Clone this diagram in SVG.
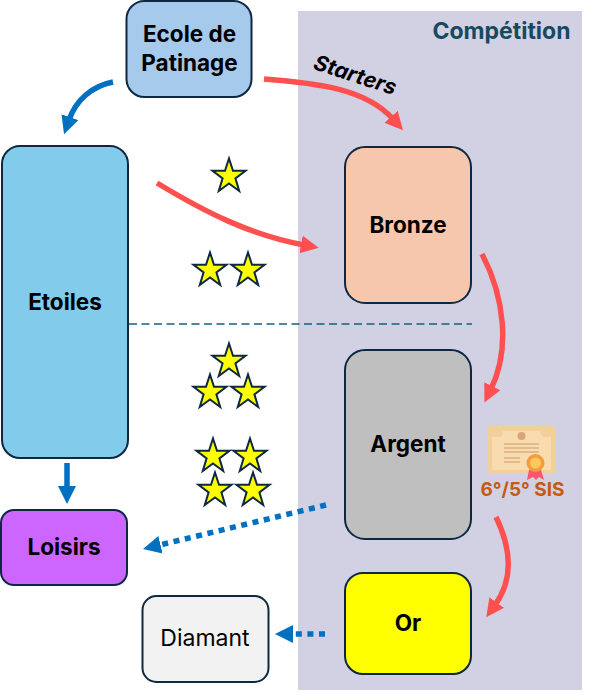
<svg xmlns="http://www.w3.org/2000/svg" width="595" height="700" viewBox="0 0 595 700">
<style>
.n{stroke:#0e2841;stroke-width:2}
.t{font-family:Inter,"Liberation Sans",sans-serif;font-size:22.500px;font-weight:700;fill:#000;text-anchor:middle}
.red{fill:none;stroke:#ff5050;stroke-width:5.500}
.blue{fill:none;stroke:#0070c0;stroke-width:5.500}
.dot{fill:none;stroke:#0070c0;stroke-width:5.500;stroke-dasharray:6 5.600}
.st{fill:#ffff00;stroke:#0e2841;stroke-width:2}
</style>
<defs>
<marker id="ar" markerUnits="userSpaceOnUse" markerWidth="20" markerHeight="20" refX="3" refY="9" orient="auto"><path d="M0 0L18 9L0 18Z" fill="#ff5050"/></marker>
<marker id="ab" markerUnits="userSpaceOnUse" markerWidth="20" markerHeight="20" refX="3" refY="9" orient="auto"><path d="M0 0L18 9L0 18Z" fill="#0070c0"/></marker>
<path id="s" d="M0-17.500L4-5.200L16.500-5.200L6.400 2.400L10.200 15L0 7.500L-10.200 15L-6.400 2.400L-16.500-5.200L-4-5.200Z"/>
</defs>
<rect x="298" y="11" width="284" height="679" fill="#d2d1e3"/>
<text x="501.500" y="39" style="font-family:Inter,'Liberation Sans',sans-serif;font-size:23px;font-weight:700;text-anchor:middle" fill="#17495f">Compétition</text>
<g id="connectors">
<line x1="129" y1="324" x2="472" y2="324" stroke="#156082" stroke-width="1.500" stroke-dasharray="8 4.500"/>
<path class="blue" d="M113 82C92 86 76 100 69 120" marker-end="url(#ab)"/>
<path class="red" d="M264 79C315 83 365 88 393 119" marker-end="url(#ar)"/>
<path class="red" d="M157 183C205 212 250 235 304 245" marker-end="url(#ar)"/>
<path class="red" d="M482 254C505 298 510 350 491 389" marker-end="url(#ar)"/>
<path class="red" d="M496 517C512 550 513 580 495 605" marker-end="url(#ar)"/>
<line x1="67" y1="463" x2="67" y2="489" class="blue" marker-end="url(#ab)"/>
<line x1="326" y1="505" x2="157.600" y2="545.500" class="dot" marker-end="url(#ab)"/>
<line x1="325" y1="634" x2="290" y2="634" class="dot" marker-end="url(#ab)"/>
</g>
<g id="ecole"><rect class="n" x="126.500" y="1" width="125" height="96" rx="18" fill="#a6caec"/><text class="t" x="189.500" y="42">Ecole de</text><text class="t" x="189.500" y="71">Patinage</text></g>
<g id="etoiles"><rect class="n" x="2" y="146" width="126" height="312" rx="18" fill="#83cbeb"/><text class="t" x="65" y="310">Etoiles</text></g>
<g id="bronze"><rect class="n" x="345" y="147" width="126" height="156" rx="20" fill="#f6c6ad"/><text class="t" x="408" y="233">Bronze</text></g>
<g id="argent"><rect class="n" x="345" y="350" width="126" height="189" rx="20" fill="#bfbfbf"/><text class="t" x="408" y="452">Argent</text></g>
<g id="or"><rect class="n" x="345" y="573" width="126" height="101" rx="18" fill="#ffff00"/><text class="t" x="408" y="631">Or</text></g>
<g id="loisirs"><rect class="n" x="1" y="510" width="126" height="75" rx="13" fill="#cc66ff"/><text class="t" x="64" y="555">Loisirs</text></g>
<g id="diamant"><rect class="n" x="142.500" y="596" width="126" height="86" rx="14" fill="#f2f2f2"/><text x="205" y="646" style="font-family:Inter,'Liberation Sans',sans-serif;font-size:23px;text-anchor:middle" fill="#000">Diamant</text></g>
<text transform="translate(353 82) rotate(18)" style="font-family:Inter,'Liberation Sans',sans-serif;font-size:21.500px;font-weight:700;font-style:italic;text-anchor:middle" fill="#000">Starters</text>
<g id="stars">
<use href="#s" class="st" x="229" y="176"/>
<use href="#s" class="st" x="210" y="270"/>
<use href="#s" class="st" x="248" y="270"/>
<use href="#s" class="st" x="229" y="361"/>
<use href="#s" class="st" x="210" y="392"/>
<use href="#s" class="st" x="248" y="392"/>
<use href="#s" class="st" x="213" y="456"/>
<use href="#s" class="st" x="250" y="456"/>
<use href="#s" class="st" x="215" y="490"/>
<use href="#s" class="st" x="253" y="490"/>
</g>
<g id="certificat">
<rect x="488" y="426" width="67" height="48" rx="2" fill="#f3cf9c"/>
<path d="M492 437H500Q502 437 503 431H540Q541 437 545 437H551V470H492Z" fill="#f8dcb0"/>
<circle cx="521.500" cy="436" r="4" fill="#d9a57a"/>
<path d="M504 444H539M504 448H539M504 452H539M504 458H520M504 462H520" stroke="#dcae80" stroke-width="1.300"/>
<path d="M529 470L527 480L533 477L536 480L539 477L544 480L541 470Z" fill="#f8576d"/>
<circle cx="535.500" cy="463" r="9" fill="#f59c3d"/>
<circle cx="535.500" cy="463" r="5.500" fill="#fdc95c"/>
</g>
<text x="522.500" y="496" style="font-family:Inter,'Liberation Sans',sans-serif;font-size:19px;font-weight:700;text-anchor:middle" fill="#c55a11">6°/5° SIS</text>
</svg>
